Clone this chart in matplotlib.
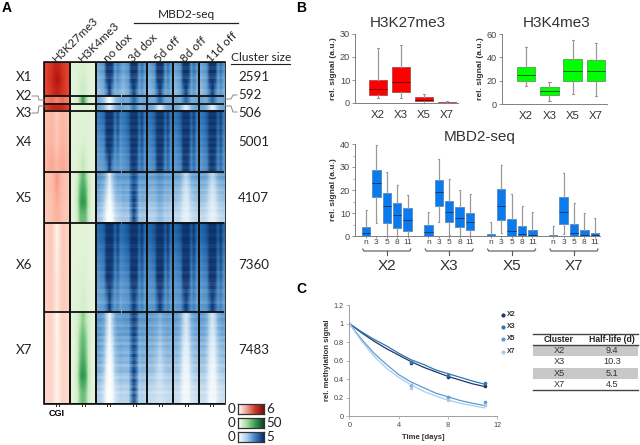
import numpy as np
import matplotlib
matplotlib.use('Agg')
import matplotlib.pyplot as plt
from matplotlib.colors import LinearSegmentedColormap
from matplotlib.patches import Rectangle

W, H = 640, 445

# ---------- panel A data ----------
clusters = ['X1', 'X2', 'X3', 'X4', 'X5', 'X6', 'X7']
cluster_sizes = ['2591', '592', '506', '5001', '4107', '7360', '7483']
cluster_edges = [63, 96, 104, 110.5, 172, 222.5, 312, 403]
track_names = ['H3K27me3', 'H3K4me3', 'no dox', '3d dox', '5d off', '8d off', '11d off']

k27_x1 = [[.72, .78, .82, .90, .92, .90, .82, .76, .72], [.72, .80, .86, .95, 1.0, .95, .86, .78, .72], [.70, .76, .82, .88, .92, .88, .82, .76, .70]]
k27_x2 = [[.52, .56, .58, .56, .52, .56, .60, .56, .52]]
k27_x3 = [[.76, .82, .88, .90, .90, .90, .88, .82, .76]]
k27_x4 = [[.32, .35, .37, .33, .27, .33, .37, .35, .32], [.33, .36, .38, .34, .28, .34, .38, .36, .33], [.36, .40, .42, .40, .36, .40, .42, .40, .36]]
k27_x5 = [[.30, .32, .34, .40, .46, .40, .34, .32, .30], [.28, .30, .32, .36, .38, .36, .32, .30, .28]]
k27_x6 = [[.24, .27, .28, .18, .07, .18, .28, .27, .24], [.24, .26, .27, .20, .12, .20, .27, .26, .24]]
k27_x7 = [[.21, .23, .23, .15, .06, .15, .23, .23, .21], [.20, .22, .22, .15, .07, .15, .22, .22, .20]]

k4_x1 = [[.06, .06, .08, .10, .12, .10, .07, .06, .06], [.05, .06, .08, .14, .18, .14, .08, .06, .05]]
k4_x2 = [[.06, .08, .12, .40, .68, .40, .12, .08, .06]]
k4_x3 = [[.05, .06, .07, .08, .10, .08, .07, .06, .05]]
k4_x4 = [[.06, .06, .07, .07, .07, .07, .07, .06, .06], [.06, .06, .07, .08, .09, .08, .07, .06, .06], [.06, .07, .08, .14, .24, .14, .08, .07, .06]]
k4_x5 = [[.06, .08, .18, .40, .55, .40, .18, .08, .06], [.06, .10, .25, .52, .62, .52, .25, .10, .06], [.06, .10, .28, .60, .72, .60, .28, .10, .06], [.06, .08, .20, .48, .50, .48, .20, .08, .06]]
k4_x6 = [[.05, .05, .06, .06, .06, .06, .06, .05, .05], [.05, .05, .06, .07, .08, .07, .06, .05, .05], [.05, .06, .07, .10, .14, .10, .07, .06, .05]]
k4_x7 = [[.05, .08, .14, .30, .42, .30, .14, .08, .05], [.05, .08, .18, .42, .52, .42, .18, .08, .05], [.05, .08, .20, .48, .58, .48, .20, .08, .05], [.05, .10, .26, .60, .72, .60, .26, .10, .05], [.05, .08, .16, .42, .50, .42, .16, .08, .05]]

nd_x1 = [[.42, .46, .50, 1.0, 1.0, .90, .48, .62, .50], [.38, .42, .46, .85, 1.0, .78, .44, .55, .45], [.32, .36, .40, .58, .95, .55, .38, .42, .36]]
nd_x2 = [[.40, .36, .30, .12, .02, .12, .30, .36, .40]]
nd_x3 = [[.42, .40, .34, .20, .08, .20, .34, .40, .42]]
nd_x4 = [[.62, .66, .70, 1.0, 1.0, .95, .66, .85, .62], [.55, .58, .62, 1.0, 1.0, .92, .60, .78, .56], [.48, .52, .55, .88, 1.0, .82, .54, .66, .50], [.44, .46, .48, .60, .95, .60, .48, .54, .46]]
nd_x5 = [[.52, .50, .44, .30, .10, .30, .42, .50, .48], [.46, .42, .36, .20, .04, .20, .36, .42, .42], [.38, .35, .26, .10, .00, .10, .26, .32, .34], [.30, .28, .18, .03, .00, .03, .18, .24, .28]]
nd_x6 = [[.68, .70, .74, 1.0, 1.0, 1.0, .72, .90, .68], [.60, .62, .66, 1.0, 1.0, .95, .64, .82, .60], [.50, .54, .58, .92, 1.0, .85, .56, .68, .52], [.44, .46, .48, .62, 1.0, .62, .48, .56, .44]]
nd_x7 = [[.52, .50, .44, .25, .06, .25, .42, .48, .48], [.46, .44, .36, .14, .02, .14, .34, .42, .44], [.40, .38, .28, .06, .00, .06, .28, .34, .38], [.28, .26, .16, .02, .00, .02, .16, .22, .26]]

d3_x1 = [[.44, .48, .54, 1.0, 1.0, .95, .52, .68, .52], [.40, .44, .50, .90, 1.0, .85, .48, .60, .46], [.34, .38, .44, .66, .95, .62, .42, .50, .40]]
d3_x2 = [[.42, .40, .40, .55, .70, .55, .40, .40, .42]]
d3_x3 = [[.40, .38, .36, .50, .62, .50, .36, .38, .40]]
d3_x4 = [[.64, .68, .76, 1.0, 1.0, 1.0, .72, .88, .64], [.58, .62, .68, 1.0, 1.0, .95, .64, .82, .58], [.50, .54, .58, .88, 1.0, .85, .56, .70, .52]]
d3_x5 = [[.50, .50, .50, .72, .85, .72, .50, .52, .50], [.46, .44, .44, .72, .90, .72, .42, .46, .44], [.38, .38, .38, .68, .92, .68, .36, .40, .38], [.30, .30, .30, .62, .92, .62, .30, .32, .30]]
d3_x6 = [[.70, .74, .80, 1.0, 1.0, 1.0, .76, .92, .70], [.62, .66, .70, 1.0, 1.0, 1.0, .68, .86, .62], [.54, .56, .60, .95, 1.0, .92, .58, .72, .54], [.48, .50, .52, .72, 1.0, .72, .52, .60, .48]]
d3_x7 = [[.50, .52, .52, .78, .92, .78, .50, .52, .50], [.42, .42, .42, .68, .88, .68, .40, .44, .42], [.36, .36, .36, .64, .90, .64, .34, .38, .36], [.25, .25, .26, .60, .92, .60, .25, .28, .25]]

d5_x5 = [[.45, .46, .46, .52, .55, .52, .46, .48, .46], [.40, .40, .40, .46, .50, .46, .40, .42, .40], [.30, .32, .32, .38, .42, .38, .32, .34, .30], [.25, .26, .26, .32, .36, .32, .26, .28, .25]]
d5_x7 = [[.48, .48, .46, .44, .38, .44, .46, .48, .46], [.40, .40, .38, .34, .26, .34, .38, .40, .38], [.34, .34, .30, .24, .18, .24, .30, .32, .32], [.22, .22, .20, .18, .16, .18, .20, .22, .22]]
d8_x5 = [[.45, .44, .42, .30, .22, .30, .42, .44, .46], [.38, .36, .32, .20, .14, .20, .32, .36, .38], [.30, .28, .24, .14, .10, .14, .24, .28, .30], [.22, .22, .18, .10, .08, .10, .18, .22, .24]]
d8_x7 = [[.48, .46, .40, .24, .14, .24, .40, .46, .48], [.38, .38, .30, .14, .08, .14, .30, .36, .38], [.30, .30, .22, .08, .05, .08, .22, .28, .30], [.20, .20, .15, .05, .04, .05, .15, .18, .20]]

k27_maps = [k27_x1, k27_x2, k27_x3, k27_x4, k27_x5, k27_x6, k27_x7]
k4_maps = [k4_x1, k4_x2, k4_x3, k4_x4, k4_x5, k4_x6, k4_x7]
nd_maps = [nd_x1, nd_x2, nd_x3, nd_x4, nd_x5, nd_x6, nd_x7]
d3_maps = [d3_x1, d3_x2, d3_x3, d3_x4, d3_x5, d3_x6, d3_x7]
d5_maps = [d3_x1, d3_x2, nd_x3, d3_x4, d5_x5, d3_x6, d5_x7]
d8_maps = [d3_x1, d3_x2, nd_x3, d3_x4, d8_x5, d3_x6, d8_x7]

# pale horizontal streaks across the MBD2 tracks, top to bottom, one list per big cluster
streak_x1 = [.03, .10, .01, .08, .14, .03, .07, .01, .10, .05]
streak_x4 = [.01, .05, .02, .07, .03, .08, .01, .05, .10, .03, .07, .02, .08, .03, .11, .04, .07, .03, .10, .05]
streak_x5 = [.04, .12, .01, .10, .16, .03, .11, .19, .03, .14, .07, .01, .15, .08, .21, .04, .12, .18, .05, .10]
streak_x6 = [.01, .04, .02, .05, .01, .03, .07, .02, .05, .08, .03, .06, .02, .10, .03, .07, .11, .04, .14, .05, .08, .15, .03, .07]
streak_x7 = [.05, .14, .03, .11, .19, .04, .12, .01, .17, .07, .21, .03, .10, .18, .01, .14, .05, .24, .08, .01, .17, .25, .04, .12, .21, .07, .26, .10, .18, .14]
streak_maps = [streak_x1, None, None, streak_x4, streak_x5, streak_x6, streak_x7]

# ---------- panel B data: q1, median, q3, low whisker, high whisker ----------
box_groups = ['X2', 'X3', 'X5', 'X7']
k27_boxes = [[3.4, 6, 10.2, 2, 24], [4.6, 9, 15.6, 2.2, 25.2], [.7, 1.5, 2.4, .2, 4], [0, .1, .3, 0, 1]]
k4_boxes = [[19.5, 25, 32, 15.5, 49], [8, 11, 14.5, 3, 19], [20, 28.5, 38.5, 9, 54.5], [20, 28.5, 37.5, 7, 52]]
mbd_labels = ['n', '3', '5', '8', '11']
mbd_x2 = [[0, 1.2, 4, 0, 11.3], [17, 23, 28.8, 5.5, 39.7], [5.7, 13, 18.8, 0, 28], [3.5, 9, 14.3, 0, 22.2], [2.3, 7, 12.2, 0, 17.8]]
mbd_x3 = [[0, 1.6, 4.8, 0, 10.5], [13, 19, 24.5, 6, 33.3], [6, 10.5, 15.2, .5, 25], [3.8, 8, 12.7, 0, 20], [2.4, 6, 9.8, 0, 18.3]]
mbd_x5 = [[0, 0, .7, 0, 6.2], [6.8, 13, 20.3, 1.5, 31], [0, 2.2, 7.5, 0, 18.2], [0, 1, 4.3, 0, 13], [0, .3, 2.6, 0, 10.5]]
mbd_x7 = [[0, 0, .5, 0, 4.5], [5.2, 10.5, 17, 1, 27.5], [0, 1.2, 5.2, 0, 14.4], [0, .6, 2.6, 0, 10], [0, .3, 1.5, 0, 8]]

# ---------- panel C data ----------
fit_days = [0, 1, 2, 3, 4, 5, 6, 7, 8, 9, 10, 11]
fit_x2 = [1, .90, .81, .73, .66, .59, .53, .48, .43, .39, .35, .32]
fit_x3 = [1, .91, .83, .76, .68, .61, .56, .50, .46, .42, .38, .345]
fit_x5 = [1, .83, .68, .56, .45, .37, .31, .25, .21, .17, .14, .115]
fit_x7 = [1, .81, .65, .52, .42, .34, .27, .22, .175, .14, .115, .09]
point_days = [0, 5, 8, 11]
pts_x2 = [1, .57, .42, .33]
pts_x3 = [1, .59, .45, .355]
pts_x5 = [1, .34, .21, .15]
pts_x7 = [1, .30, .18, .125]
decay_colors = ['#1f3864', '#2e75b6', '#5b9bd5', '#a9cdee']
halflife_rows = [['X2', '9.4'], ['X3', '10.3'], ['X5', '5.1'], ['X7', '4.5']]

plt.rcParams['font.family'] = ['Liberation Sans', 'DejaVu Sans']
fig = plt.figure(figsize=(W / 100, H / 100), dpi=100)


def px_axes(x0, y0, x1, y1, **kw):
    # y0 is the top edge, measured from the top of the image
    return fig.add_axes([x0 / W, 1 - y1 / H, (x1 - x0) / W, (y1 - y0) / H], **kw)


reds = LinearSegmentedColormap.from_list('r', [(0, '#ffffff'), (.2, '#fddacd'), (.4, '#fbb09b'), (.7, '#e8452f'), (1, '#b5150f')])
greens = LinearSegmentedColormap.from_list('g', [(0, '#ffffff'), (.04, '#e6f5dc'), (.3, '#b5e2ae'), (.6, '#3fa85a'), (1, '#0a5a28')])
blues = LinearSegmentedColormap.from_list('b', ['#ffffff', '#b5d3ec', '#5d9bd0', '#1f66ad', '#08306b'])
bar_reds = LinearSegmentedColormap.from_list('br', ['#ffffff', '#f0a090', '#c83a28', '#7f0f0c'])
bar_greens = LinearSegmentedColormap.from_list('bg', ['#ffffff', '#a8dca0', '#3a9a50', '#0a4a20'])
bar_blues = LinearSegmentedColormap.from_list('bb', ['#ffffff', '#a8d0ee', '#3f80c0', '#08306b'])

# underlay for filled backgrounds, overlay for text and rules, both in pixel coordinates
bg = fig.add_axes([0, 0, 1, 1], zorder=-1)
bg.set_xlim(0, W)
bg.set_ylim(H, 0)
bg.axis('off')
ov = fig.add_axes([0, 0, 1, 1], zorder=5)
ov.set_xlim(0, W)
ov.set_ylim(H, 0)
ov.axis('off')
ov.patch.set_alpha(0)

# ---------- A ----------
track_x = [(45, 69), (71, 95), (96.5, 121), (122, 146), (148, 172), (174, 198), (199.5, 224)]
track_maps = [k27_maps, k4_maps, nd_maps, d3_maps, d5_maps, d8_maps, d8_maps]
track_cmaps = [reds, greens, blues, blues, blues, blues, blues]
track_vmax = [1, 1, .93, .93, .93, .93, .93]

bg.add_patch(Rectangle((44, 62), 181, 342, fc='#111111', ec='#111111', lw=1.2))
for t, ((x0, x1), maps, cm) in enumerate(zip(track_x, track_maps, track_cmaps)):
    ax = px_axes(x0, 63, x1, 403)
    for i, m in enumerate(maps):
        ext = (0, 1, cluster_edges[i + 1], cluster_edges[i])
        ax.imshow(np.array(m), cmap=cm, vmin=0, vmax=track_vmax[t], aspect='auto', interpolation='bilinear', extent=ext)
        if t >= 2 and streak_maps[i] is not None:
            rgba = np.ones((len(streak_maps[i]), 1, 4))
            rgba[:, 0, 3] = streak_maps[i]
            ax.imshow(rgba, aspect='auto', interpolation='nearest', extent=ext)
    ax.set_xlim(0, 1)
    ax.set_ylim(403, 63)
    ax.axis('off')
    for y in cluster_edges[1:-1]:
        ax.axhline(y, color='#111111', lw=1.3)
    mid = (x0 + x1) / 2
    ov.plot([mid - 1.5, mid - 1.5], [404, 406], color='#222222', lw=.7)
    ov.plot([mid + 1.5, mid + 1.5], [404, 406], color='#222222', lw=.7)

label_font = ['Lato', 'DejaVu Sans']
for (x0, x1), name in zip(track_x, track_names):
    ov.text((x0 + x1) / 2 - 3, 61, name, rotation=45, ha='left', va='center', fontsize=8.4, rotation_mode='anchor',
            family=label_font, color='#222222')
ov.text(2, 8, 'A', fontsize=10, fontweight='bold', va='center')
ov.text(186, 14, 'MBD2-seq', fontsize=8.6, ha='center', va='center', family=label_font, color='#222222')
ov.plot([134, 238], [23, 23], color='#222222', lw=.9)
ov.text(231, 57.5, 'Cluster size', fontsize=8.6, va='center', family=label_font, color='#222222')
ov.plot([231, 290], [64, 64], color='#222222', lw=.8)
ov.text(57, 413, 'CGI', fontsize=6.5, fontweight='bold', ha='center', va='center')

label_y = [77, 96.5, 113, 142.5, 198, 265, 350]
size_y = [77, 95, 113, 142.5, 198, 265, 350]
for name, y in zip(clusters, label_y):
    ov.text(16, y, name, fontsize=9.6, ha='left', va='center', family=label_font, color='#222222')
for s, y in zip(cluster_sizes, size_y):
    ov.text(238, y, s, fontsize=9.6, ha='left', va='center', family=label_font, color='#222222')
ov.plot([32, 38, 39, 44], [96, 96, 100, 100], color='#888888', lw=.7)
ov.plot([32, 38, 39, 44], [113, 113, 106, 106], color='#888888', lw=.7)
ov.plot([225, 231, 233, 237], [99, 99, 95, 95], color='#888888', lw=.7)
ov.plot([225, 231, 233, 237], [106, 106, 112, 112], color='#888888', lw=.7)

cbar_y = [(404, 414), (418, 428), (432, 442)]
cbar_max = ['6', '50', '5']
ramp = [np.linspace(0, 1, 32)]
for (y0, y1), cm, lab in zip(cbar_y, [bar_reds, bar_greens, bar_blues], cbar_max):
    ax = px_axes(238, y0, 264, y1)
    ax.imshow(ramp, cmap=cm, aspect='auto')
    ax.set_xticks([])
    ax.set_yticks([])
    for s in ax.spines.values():
        s.set_color('#333333')
        s.set_linewidth(.9)
    ov.text(235, (y0 + y1) / 2, '0', fontsize=9.6, ha='right', va='center', family=label_font, color='#222222')
    ov.text(266, (y0 + y1) / 2, lab, fontsize=9.6, ha='left', va='center', family=label_font, color='#222222')


# ---------- B ----------
def make_stats(rows):
    return [dict(q1=r[0], med=r[1], q3=r[2], whislo=r[3], whishi=r[4], fliers=[]) for r in rows]


def draw_boxes(ax, rows, positions, color, edge, med, width):
    ax.bxp(make_stats(rows), positions=positions, widths=width, patch_artist=True, showfliers=False,
           boxprops=dict(facecolor=color, edgecolor=edge, lw=.6),
           medianprops=dict(color=med, lw=.7),
           whiskerprops=dict(color='#999999', lw=.9),
           capprops=dict(color='#999999', lw=.7),
           capwidths=width * .12, manage_ticks=False)
    for s in ['top', 'right']:
        ax.spines[s].set_visible(False)
    for s in ['left', 'bottom']:
        ax.spines[s].set_color('#808080')
        ax.spines[s].set_linewidth(.7)
    ax.tick_params(axis='y', labelsize=6.6, length=2, width=.6, color='#808080', labelcolor='#444444', pad=1.5)
    ax.set_ylabel('rel. signal (a.u.)', fontsize=6, fontweight='bold', color='#333333', labelpad=2)


ax = px_axes(355, 34, 458, 103)
draw_boxes(ax, k27_boxes, range(4), '#ff0000', '#a05050', '#700000', .8)
ax.set_xlim(-.99, 3.47)
ax.set_ylim(0, 30)
ax.set_yticks([0, 10, 20, 30])
ax.set_xticks(range(4), box_groups)
ax.tick_params(axis='x', length=0, labelsize=8.2, labelcolor='#333333', pad=5)
ax.set_title('H3K27me3', fontsize=11, color='#333333', pad=5, x=.51)

ax = px_axes(502, 34, 607, 104)
draw_boxes(ax, k4_boxes, range(4), '#00ff00', '#50a050', '#0a5a0a', .8)
ax.set_xlim(-1.04, 3.48)
ax.set_ylim(0, 60)
ax.set_yticks([0, 20, 40, 60])
ax.set_xticks(range(4), box_groups)
ax.tick_params(axis='x', length=0, labelsize=8.2, labelcolor='#333333', pad=5)
ax.set_title('H3K4me3', fontsize=11, color='#333333', pad=5, x=.52)

ax = px_axes(355, 144, 600, 236)
mbd_groups = [mbd_x2, mbd_x3, mbd_x5, mbd_x7]
tick_pos, tick_lab = [], []
for g, rows in enumerate(mbd_groups):
    pos = [g * 6 + i for i in range(5)]
    draw_boxes(ax, rows, pos, '#0a7bef', '#5a88b8', '#103a70', .8)
    tick_pos += pos
    tick_lab += mbd_labels
ax.set_xlim(-1.06, 22.5)
ax.set_ylim(0, 40)
ax.set_yticks([0, 10, 20, 30, 40])
ax.set_yticks([5, 15, 25, 35], minor=True)
ax.tick_params(axis='y', which='minor', length=1.2, width=.5, color='#808080')
ax.set_xticks(tick_pos, tick_lab)
ax.tick_params(axis='x', labelsize=6, labelcolor='#444444', length=1.5, width=.6, color='#808080', pad=1)
ax.set_title('MBD2-seq', fontsize=11, color='#333333', pad=-2, x=.51)

for g, name in enumerate(box_groups):
    c = 386.8 + g * 62.4
    ov.plot([c - 24, c - 23, c + 23, c + 24], [249, 251, 251, 249], color='#555555', lw=.8)
    ov.plot([c, c], [251, 255], color='#555555', lw=.8)
    ov.text(c, 266, name, fontsize=11, ha='center', va='center', color='#333333')
ov.text(296, 8, 'B', fontsize=10, fontweight='bold', va='center')

# ---------- C ----------
ov.text(296, 289, 'C', fontsize=10, fontweight='bold', va='center')
ax = px_axes(349.3, 305, 497.3, 416.3)
for fit, pts, col in zip([fit_x2, fit_x3, fit_x5, fit_x7], [pts_x2, pts_x3, pts_x5, pts_x7], decay_colors):
    ax.plot(fit_days, fit, color=col, lw=.9)
    ax.plot(point_days, pts, 'o', color=col, ms=2.6, mew=0)
ax.set_xlim(0, 12)
ax.set_ylim(0, 1.2)
ax.set_xticks([0, 4, 8, 12])
ax.set_yticks([0, .2, .4, .6, .8, 1, 1.2], ['0', '0.2', '0.4', '0.6', '0.8', '1', '1.2'])
for s in ['top', 'right']:
    ax.spines[s].set_visible(False)
for s in ['left', 'bottom']:
    ax.spines[s].set_color('#a0a0a0')
    ax.spines[s].set_linewidth(.7)
ax.tick_params(labelsize=5.2, length=2, width=.5, color='#a0a0a0', labelcolor='#444444', pad=2)
ax.set_xlabel('Time [days]', fontsize=5.6, fontweight='bold', color='#333333', labelpad=4)
ax.set_ylabel('rel. methylation signal', fontsize=5.6, fontweight='bold', color='#333333', labelpad=2)

for name, y, col in zip(box_groups, [314.5, 327, 339, 351.5], decay_colors):
    ov.plot([503], [y], 'o', color=col, ms=3, mew=0)
    ov.text(506.5, y, name, fontsize=5, fontweight='bold', va='center', color='#333333')

ov.plot([533, 638], [334, 334], color='#444444', lw=1)
ov.plot([533, 638], [345, 345], color='#444444', lw=1)
ov.plot([533, 638], [390, 390], color='#444444', lw=1)
ov.text(559, 339.5, 'Cluster', fontsize=6.2, fontweight='bold', ha='center', va='center', color='#222222')
ov.text(612, 339.5, 'Half-life (d)', fontsize=6.2, fontweight='bold', ha='center', va='center', color='#222222')
for i, row in enumerate(halflife_rows):
    y0 = 345 + i * 11.25
    if i % 2 == 0:
        bg.add_patch(Rectangle((533, y0), 105, 11.25, fc='#c8c8c8', ec='none'))
    ov.text(559, y0 + 5.6, row[0], fontsize=6.6, ha='center', va='center', color='#333333')
    ov.text(612, y0 + 5.6, row[1], fontsize=6.6, ha='center', va='center', color='#333333')

fig.savefig('out.png', dpi=100)
